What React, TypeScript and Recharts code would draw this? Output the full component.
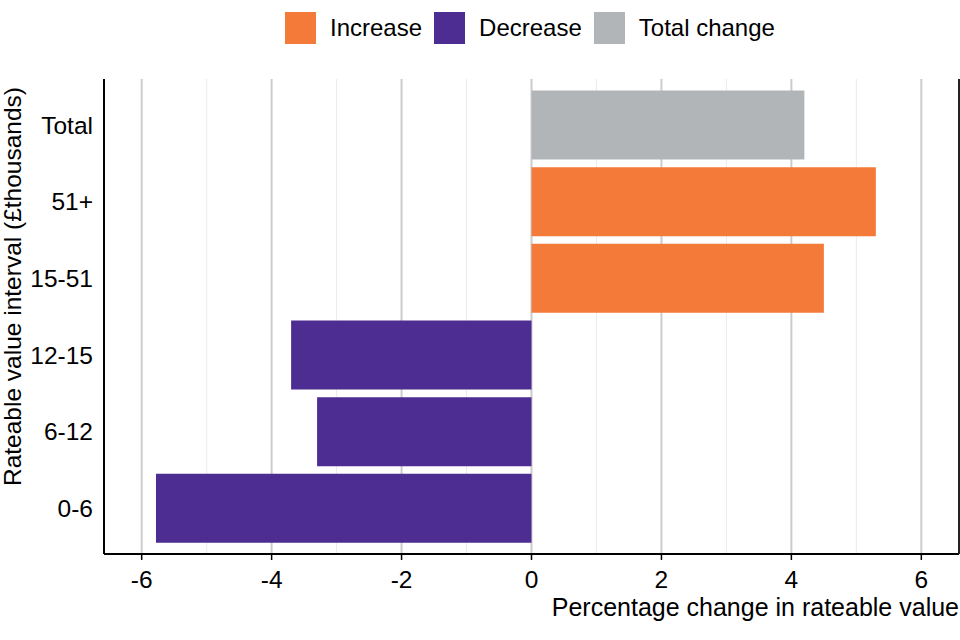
import { BarChart, Bar, Cell, XAxis, YAxis, CartesianGrid, Label } from "recharts";

const intervals = ["Total", "51+", "15-51", "12-15", "6-12", "0-6"];
const changes = [4.2, 5.3, 4.5, -3.7, -3.3, -5.78];
const kinds = ["Total change", "Increase", "Increase", "Decrease", "Decrease", "Decrease"];

const majorTicks = [-6, -4, -2, 0, 2, 4, 6];
const minorTicks = [-5, -3, -1, 1, 3, 5];

const legendItems = ["Increase", "Decrease", "Total change"];
const colours: Record<string, string> = {
  Increase: "#F47A3A",
  Decrease: "#4D2D92",
  "Total change": "#B2B5B8",
};

const data = intervals.map((interval, i) => ({
  interval,
  change: changes[i],
  kind: kinds[i],
}));

const font = "'Liberation Sans', Arial, Helvetica, sans-serif";

export default function App() {
  return (
    <div style={{ position: "absolute", left: 0, top: 0, width: 960, height: 640, fontFamily: font }}>
      {/* legend */}
      <div
        style={{
          position: "absolute",
          top: 12,
          left: 285,
          display: "flex",
          alignItems: "center",
          fontSize: 24,
          color: "#000",
          height: 32,
        }}
      >
        {legendItems.map((name) => (
          <span key={name} style={{ display: "flex", alignItems: "center", marginRight: 12 }}>
            <span style={{ width: 31, height: 32, background: colours[name], marginRight: 14 }} />
            {name}
          </span>
        ))}
      </div>

      <BarChart
        width={960}
        height={640}
        data={data}
        layout="vertical"
        margin={{ top: 79, right: 0, left: 0, bottom: 0 }}
        barSize={69}
      >
        <CartesianGrid xAxisId="minor" horizontal={false} stroke="#ebebeb" strokeWidth={1} />
        <CartesianGrid horizontal={false} stroke="#cccccc" strokeWidth={2} />
        <XAxis
          type="number"
          domain={[-6.58, 6.58]}
          ticks={majorTicks}
          allowDataOverflow
          height={86}
          axisLine={{ stroke: "#000", strokeWidth: 2 }}
          tickLine={{ stroke: "#000", strokeWidth: 1.5 }}
          tickSize={6}
          tickMargin={11}
          tick={{ fontSize: 24.5, fill: "#000", fontFamily: font }}
        >
          <Label
            content={() => (
              <text x={959} y={616} textAnchor="end" fontSize={25} fill="#000" fontFamily={font}>
                Percentage change in rateable value
              </text>
            )}
          />
        </XAxis>
        <XAxis
          xAxisId="minor"
          orientation="top"
          type="number"
          domain={[-6.58, 6.58]}
          ticks={minorTicks}
          allowDataOverflow
          height={0}
          tick={() => <g />}
          tickLine={false}
          axisLine={{ stroke: "#888888", strokeWidth: 2 }}
        />
        <YAxis
          type="category"
          dataKey="interval"
          width={104}
          padding={{ top: 7.6, bottom: 7.6 }}
          axisLine={{ stroke: "#000", strokeWidth: 2 }}
          tickLine={false}
          tickSize={0}
          tickMargin={11}
          tick={{ fontSize: 24.5, fill: "#000", fontFamily: font }}
        >
          <Label
            content={() => (
              <text
                x={21}
                y={286.5}
                transform="rotate(-90, 21, 286.5)"
                textAnchor="middle"
                fontSize={24.5}
                fill="#000"
                fontFamily={font}
              >
                Rateable value interval (£thousands)
              </text>
            )}
          />
        </YAxis>
        <YAxis
          yAxisId="right"
          orientation="right"
          type="category"
          dataKey="interval"
          width={1}
          tick={false}
          tickLine={false}
          axisLine={{ stroke: "#222", strokeWidth: 2 }}
        />
        <Bar dataKey="change" isAnimationActive={false}>
          {data.map((d) => (
            <Cell key={d.interval} fill={colours[d.kind]} />
          ))}
        </Bar>
      </BarChart>
    </div>
  );
}
